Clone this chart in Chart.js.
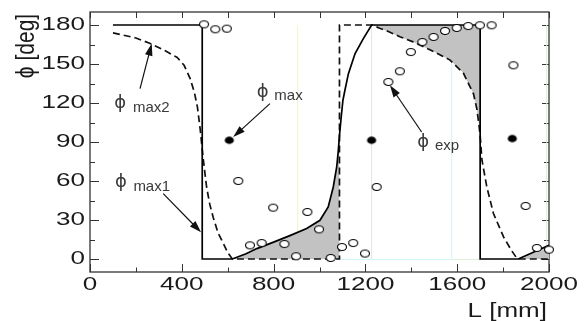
<!DOCTYPE html>
<html><head><meta charset="utf-8">
<script src="https://cdn.jsdelivr.net/npm/chart.js@4.4.0/dist/chart.umd.min.js"></script>
<style>html,body{margin:0;padding:0;background:#fff;}#wrap{width:588px;height:321px;}</style>
</head><body><div id="wrap"><canvas id="c" width="588" height="321"></canvas></div>
<script>
// ---- data ----
const xTicks = [0, 400, 800, 1200, 1600, 2000];
const xTickLabels = ['0', '400', '800', '1200', '1600', '2000'];
const yTicks = [0, 30, 60, 90, 120, 150, 180];
const yTickLabels = ['0', '30', '60', '90', '120', '150', '180'];

// phi_max1 (solid)
const max1L   = [100, 489, 489, 620, 680, 727, 800, 871, 944, 1002, 1038, 1060, 1075, 1082, 1087, 1095, 1102, 1111, 1126, 1155, 1191, 1227, 1700, 1700, 1866, 2000];
const max1Phi = [180, 180,   0,   0,   4,   8,  13,  18, 23.4, 29.8,   40, 55.4, 70.8, 83.6,   95,  110,  122,  130, 142.6, 158, 169.5, 180,  180,    0,    0, 10.5];

// phi_max2 (dashed)
const max2L   = [100, 200, 260, 330, 380, 410, 436, 455, 468, 480, 494, 508, 522, 537, 558, 581, 600, 620, 1087, 1087, 1230, 1262, 1300, 1350, 1408, 1481, 1569, 1627, 1671, 1685, 1695, 1700, 1708, 1729, 1758, 1802, 1835, 1862, 2000];
const max2Phi = [174, 170, 166, 160, 155, 149, 139, 128, 117, 100,  76, 55.4, 42,  32,  20,  12,   5,   0,    0,  180,  180, 177.5, 175,  171,  167,  161,  153,  143,  127,  116,  103,   95,   76, 55.5,   35,   17,    7,    0,    0];

// phi_exp (open circles)
const expL   = [497, 546, 596, 646, 697, 748, 798, 847, 898, 947, 998, 1049, 1098, 1147, 1198, 1249, 1300, 1350, 1398, 1448, 1497, 1547, 1598, 1648, 1699, 1750, 1845, 1898, 1947, 2000];
const expPhi = [180.5, 176.7, 177.2, 60, 10.5, 12.3, 39.5, 11.5, 2.1, 36.2, 22.8, 0.8, 9.2, 12.3, 4.2, 55.4, 136.2, 144.4, 159.2, 166.9, 170.8, 175.4, 177.7, 179.2, 179.8, 179.8, 149, 40.8, 8.5, 7.2];

// phi_max (filled dots)
const maxL   = [607, 1227, 1840];
const maxPhi = [91.3, 91.3, 92.6];

// faint guide lines
const guideL = [905, 1227, 1576, 1990];

// ---- helpers ----
const pts = (xs, ys) => xs.map((x, i) => ({x: x, y: ys[i]}));
const inRange = (arr, a, b) => arr.filter(p => p.x >= a && p.x <= b);
const solid = pts(max1L, max1Phi);
const dashed = pts(max2L, max2Phi);

function ellipseImg(rx, ry, fill, stroke, lw) {
  const c = document.createElement('canvas');
  const w = 2 * Math.ceil(rx + lw / 2 + 1), h = 2 * Math.ceil(ry + lw / 2 + 1);
  c.width = w; c.height = h;
  const g = c.getContext('2d');
  g.beginPath(); g.ellipse(w / 2, h / 2, rx, ry, 0, 0, Math.PI * 2);
  g.fillStyle = fill; g.fill();
  if (lw > 0) { g.lineWidth = lw; g.strokeStyle = stroke; g.stroke(); }
  return c;
}
const openImg = ellipseImg(4.5, 3.5, '#fff', '#000', 1.1);
const dotImg = ellipseImg(4.6, 3.7, '#000', '#000', 0);

const guideColors = ['#f6f2c4', '#e4e4e4', '#d2f4f4', '#d8efd6'];
const guideSets = guideL.map((g, i) => ({
  data: [{x: g, y: 0}, {x: g, y: 180}], showLine: true, borderColor: guideColors[i],
  borderWidth: 1, pointRadius: 0, fill: false
}));

const annotations = [
  {sub: 'max2', phi: [131, 119.4], subAt: [187, 112.8], from: [218, 131.1], to: [269, 165.7]},
  {sub: 'max',  phi: [752, 128],   subAt: [803, 122.1], from: [784, 119.5], to: [624, 93.8]},
  {sub: 'max1', phi: [135, 58.6],  subAt: [189, 52.3],  from: [319, 50.3],  to: [484, 20.5]},
  {sub: 'exp',  phi: [1452, 89.4], subAt: [1503, 84.2], from: [1445, 97.7], to: [1307, 133.6]}
];

const FONT = '"Liberation Sans", Arial, sans-serif';
const SX = 1.37;

function sText(ctx, t, x, y, align, sx) {
  ctx.save(); ctx.translate(x, y); ctx.scale(sx, 1); ctx.textAlign = align; ctx.fillText(t, 0, 0); ctx.restore();
}

const framePlugin = {
  id: 'frame',
  beforeDatasetsDraw(chart) {
    const {ctx, chartArea: a, scales: {x, y}} = chart;
    ctx.save();
    ctx.strokeStyle = '#333'; ctx.lineWidth = 1.3;
    ctx.strokeRect(a.left, a.top, a.right - a.left, a.bottom - a.top);
    ctx.lineWidth = 1;
    ctx.beginPath();
    for (let v = 0; v <= 2000; v += 200) {
      const px = Math.round(x.getPixelForValue(v)) + 0.5;
      const len = (v % 400 === 0) ? 8 : 4.5;
      ctx.moveTo(px, a.bottom); ctx.lineTo(px, a.bottom - len);
      ctx.moveTo(px, a.top); ctx.lineTo(px, a.top + 6);
    }
    for (let v = 0; v <= 180; v += 15) {
      const py = Math.round(y.getPixelForValue(v)) + 0.5;
      const len = (v % 30 === 0) ? 9 : 5;
      ctx.moveTo(a.left, py); ctx.lineTo(a.left + len, py);
      ctx.moveTo(a.right, py); ctx.lineTo(a.right - ((v % 30 === 0) ? 7 : 5), py);
    }
    ctx.stroke();
    // faint horizontal guides at 0
    ctx.lineWidth = 1;
    ctx.strokeStyle = '#d2f6f6';
    ctx.beginPath();
    ctx.moveTo(x.getPixelForValue(1087), y.getPixelForValue(0) + 0.5);
    ctx.lineTo(x.getPixelForValue(1576), y.getPixelForValue(0) + 0.5);
    ctx.stroke();
    ctx.strokeStyle = '#dcf0d8';
    ctx.beginPath();
    ctx.moveTo(x.getPixelForValue(1576), y.getPixelForValue(0) + 0.5);
    ctx.lineTo(x.getPixelForValue(1700), y.getPixelForValue(0) + 0.5);
    ctx.stroke();
    ctx.restore();
  },
  afterDraw(chart) {
    const {ctx, chartArea: a, scales: {x, y}} = chart;
    ctx.save();
    ctx.fillStyle = '#1a1a1a';
    ctx.font = '19px ' + FONT;
    ctx.textBaseline = 'middle';
    xTicks.forEach((v, i) => sText(ctx, xTickLabels[i], x.getPixelForValue(v), 285, 'center', SX));
    yTicks.forEach((v, i) => sText(ctx, yTickLabels[i], 85, y.getPixelForValue(v), 'right', SX));
    // axis titles
    ctx.font = '20px ' + FONT;
    ctx.textBaseline = 'alphabetic';
    sText(ctx, 'L [mm]', 547, 316.5, 'right', 1.3);
    ctx.save();
    ctx.translate(34, 46); ctx.rotate(-Math.PI / 2); ctx.scale(1, 1.2);
    ctx.textAlign = 'center'; ctx.font = '21px ' + FONT;
    ctx.fillText('ϕ [deg]', 0, 0);
    ctx.restore();
    // annotations
    annotations.forEach(an => {
      ctx.fillStyle = '#3a3a3a';
      ctx.font = '18px "DejaVu Sans", sans-serif'; ctx.textAlign = 'center'; ctx.textBaseline = 'middle';
      ctx.fillText('ϕ', x.getPixelForValue(an.phi[0]), y.getPixelForValue(an.phi[1]));
      ctx.font = '15px ' + FONT; ctx.textAlign = 'left'; ctx.textBaseline = 'alphabetic';
      ctx.fillText(an.sub, x.getPixelForValue(an.subAt[0]), y.getPixelForValue(an.subAt[1]));
      const x0 = x.getPixelForValue(an.from[0]), y0 = y.getPixelForValue(an.from[1]);
      const x1 = x.getPixelForValue(an.to[0]), y1 = y.getPixelForValue(an.to[1]);
      const ang = Math.atan2(y1 - y0, x1 - x0), hl = 12, hw = 3.8;
      ctx.strokeStyle = '#111'; ctx.fillStyle = '#111'; ctx.lineWidth = 1.2;
      ctx.beginPath(); ctx.moveTo(x0, y0);
      ctx.lineTo(x1 - Math.cos(ang) * hl * 0.8, y1 - Math.sin(ang) * hl * 0.8); ctx.stroke();
      ctx.beginPath();
      ctx.moveTo(x1, y1);
      ctx.lineTo(x1 - Math.cos(ang) * hl - Math.sin(ang) * hw, y1 - Math.sin(ang) * hl + Math.cos(ang) * hw);
      ctx.lineTo(x1 - Math.cos(ang) * hl + Math.sin(ang) * hw, y1 - Math.sin(ang) * hl - Math.cos(ang) * hw);
      ctx.closePath(); ctx.fill();
    });
    ctx.restore();
  }
};

new Chart(document.getElementById('c'), {
  type: 'scatter',
  data: {
    datasets: [
      {label: 'phi_max', data: pts(maxL, maxPhi), pointStyle: dotImg, pointRadius: 5, showLine: false, clip: false},
      {label: 'phi_exp', data: pts(expL, expPhi), pointStyle: openImg, pointRadius: 5, showLine: false, clip: false},
      {label: 'phi_max1', data: solid, showLine: true, borderColor: '#000', borderWidth: 1.7, pointRadius: 0, tension: 0, fill: false},
      {label: 'phi_max2', data: dashed, showLine: true, borderColor: '#111', borderWidth: 1.7, borderDash: [7, 4], pointRadius: 0, tension: 0, fill: false},
      {label: 'fill1', data: inRange(solid, 620, 1087), showLine: true, borderColor: 'transparent', borderWidth: 0, pointRadius: 0, backgroundColor: '#c2c2c2', fill: {value: 0}},
      {label: 'fill2', data: inRange(dashed, 1230, 1700), showLine: true, borderColor: 'transparent', borderWidth: 0, pointRadius: 0, backgroundColor: '#c2c2c2', fill: {value: 180}},
      {label: 'fill3', data: inRange(solid, 1866, 2000), showLine: true, borderColor: 'transparent', borderWidth: 0, pointRadius: 0, backgroundColor: '#c2c2c2', fill: {value: 0}},
      ...guideSets
    ]
  },
  options: {
    responsive: false, animation: false, devicePixelRatio: 1,
    layout: {padding: {left: 90, right: 39, top: 12, bottom: 49}},
    plugins: {legend: {display: false}, tooltip: {enabled: false}},
    scales: {
      x: {type: 'linear', min: 0, max: 2000, display: false},
      y: {type: 'linear', min: -10, max: 190, display: false}
    }
  },
  plugins: [framePlugin]
});
</script></body></html>
